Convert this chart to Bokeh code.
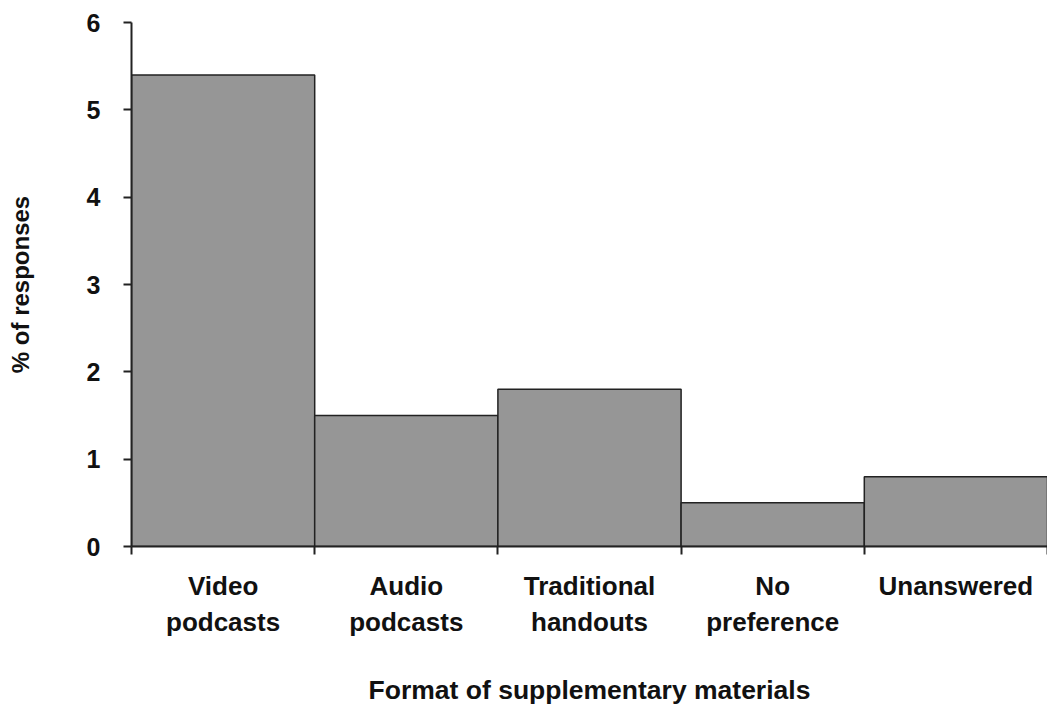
from bokeh.plotting import figure
from bokeh.models import Range1d, FixedTicker, ColumnDataSource
from bokeh.embed import file_html
from bokeh.resources import INLINE

categories = ["Video\npodcasts", "Audio\npodcasts", "Traditional\nhandouts", "No\npreference", "Unanswered"]
values = [5.4, 1.5, 1.8, 0.5, 0.8]
y_ticks = [0, 1, 2, 3, 4, 5, 6]

centers = [i + 0.5 for i in range(len(categories))]
bounds = list(range(len(categories) + 1))

src = ColumnDataSource(dict(x=centers, top=values))

p = figure(width=1047, height=707, output_backend="svg", toolbar_location=None,
           x_range=Range1d(0, 5.0), y_range=Range1d(0, 6),
           min_border_left=131, min_border_right=0, min_border_top=22, min_border_bottom=159)

p.vbar(x="x", top="top", bottom=0, width=1.0, source=src,
       fill_color="#969696", line_color="#222222", line_width=1.5)

FONT = "Liberation Sans"
TXT = "#111111"

p.xgrid.visible = False
p.ygrid.visible = False
p.outline_line_color = None
p.background_fill_color = "white"
p.border_fill_color = "white"

xa = p.xaxis[0]
xa.ticker = FixedTicker(ticks=centers, minor_ticks=bounds)
xa.major_label_overrides = {c: lab for c, lab in zip(centers, categories)}
xa.major_tick_out = 0
xa.major_tick_in = 0
xa.minor_tick_out = 8
xa.minor_tick_in = 0
xa.minor_tick_line_color = "#222222"
xa.minor_tick_line_width = 2
xa.axis_line_color = "#222222"
xa.axis_line_width = 2
xa.major_label_text_font = FONT
xa.major_label_text_font_style = "bold"
xa.major_label_text_font_size = "26px"
xa.major_label_text_color = TXT
xa.major_label_text_line_height = 1.2
xa.major_label_standoff = 16
xa.axis_label = "Format of supplementary materials"
xa.axis_label_text_font = FONT
xa.axis_label_text_font_style = "bold"
xa.axis_label_text_font_size = "26.5px"
xa.axis_label_text_color = TXT
xa.axis_label_standoff = 35

ya = p.yaxis[0]
ya.ticker = FixedTicker(ticks=y_ticks, minor_ticks=[])
ya.major_tick_out = 8
ya.major_tick_in = 0
ya.major_tick_line_color = "#222222"
ya.major_tick_line_width = 2
ya.minor_tick_line_color = None
ya.axis_line_color = "#222222"
ya.axis_line_width = 2
ya.major_label_text_font = FONT
ya.major_label_text_font_style = "bold"
ya.major_label_text_font_size = "25px"
ya.major_label_text_color = TXT
ya.major_label_standoff = 23
ya.axis_label = "% of responses"
ya.axis_label_text_font = FONT
ya.axis_label_text_font_style = "bold"
ya.axis_label_text_font_size = "24px"
ya.axis_label_text_color = TXT
ya.axis_label_standoff = 50

open("out.html", "w").write(file_html(p, INLINE))
